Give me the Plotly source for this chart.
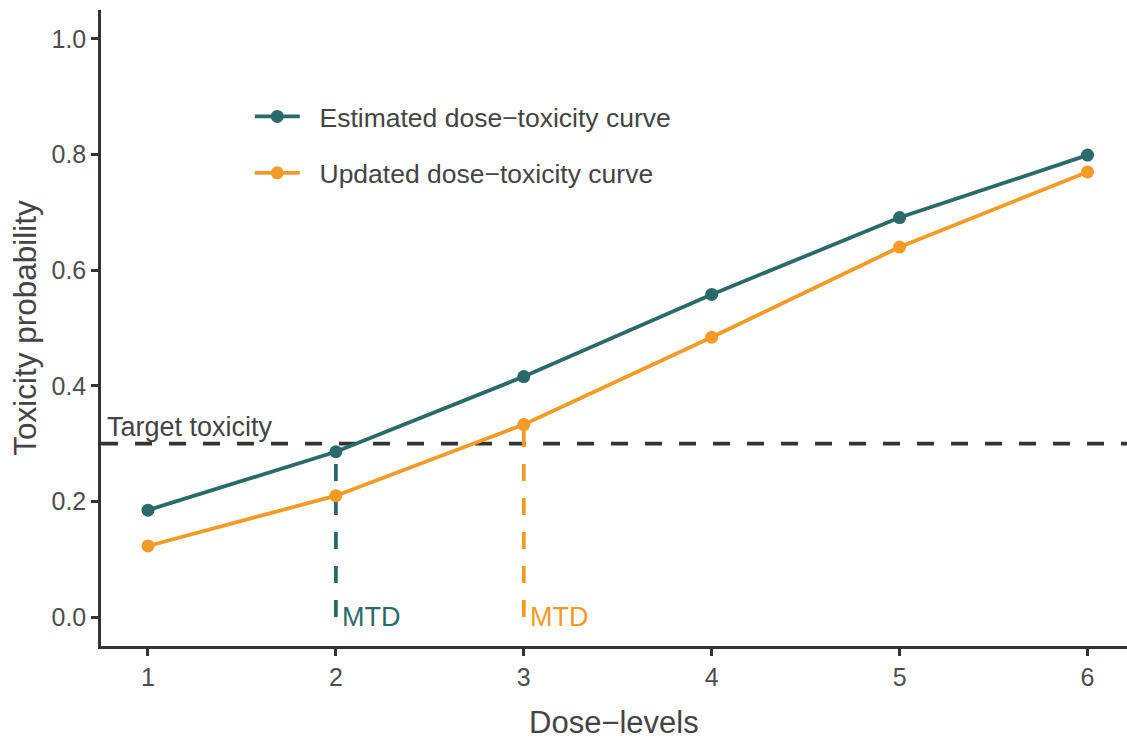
import plotly.graph_objects as go

dose_levels = [1, 2, 3, 4, 5, 6]
estimated = [0.185, 0.286, 0.416, 0.558, 0.691, 0.799]
updated = [0.123, 0.210, 0.333, 0.484, 0.640, 0.770]
target = 0.3
mtd_estimated = 2
mtd_updated = 3
x_ticks = [1, 2, 3, 4, 5, 6]
y_ticks = [0.0, 0.2, 0.4, 0.6, 0.8, 1.0]
y_tick_labels = ["0.0", "0.2", "0.4", "0.6", "0.8", "1.0"]

TEAL = "#2B6A6B"
ORANGE = "#F39B27"
DARK = "#333333"
FONT = "Liberation Sans, Arial, sans-serif"
NB = "\u00a0\u00a0"

fig = go.Figure()

# vertical MTD lines
fig.add_trace(go.Scatter(x=[mtd_estimated, mtd_estimated], y=[0, estimated[mtd_estimated - 1]],
                         mode="lines", line=dict(color=TEAL, width=3.8, dash="17px,17px"),
                         showlegend=False, hoverinfo="skip"))
fig.add_trace(go.Scatter(x=[mtd_updated, mtd_updated], y=[0, updated[mtd_updated - 1]],
                         mode="lines", line=dict(color=ORANGE, width=3.8, dash="17px,17px"),
                         showlegend=False, hoverinfo="skip"))

fig.add_trace(go.Scatter(x=dose_levels, y=estimated, mode="lines+markers",
                         name=NB + "Estimated dose\u2212toxicity curve", legendgroup="a",
                         line=dict(color=TEAL, width=3.8), marker=dict(color=TEAL, size=13)))
fig.add_trace(go.Scatter(x=dose_levels, y=updated, mode="lines+markers",
                         name=NB + "Updated dose\u2212toxicity curve", legendgroup="b",
                         line=dict(color=ORANGE, width=3.8), marker=dict(color=ORANGE, size=13)))

fig.add_shape(type="line", xref="paper", yref="y", x0=0, x1=1, y0=target, y1=target,
              line=dict(color=DARK, width=3.8, dash="17px,17px"), layer="below")

fig.add_annotation(x=0, xref="paper", y=target, yref="y", text="Target toxicity",
                   showarrow=False, xanchor="left", yanchor="bottom", xshift=4, yshift=0,
                   font=dict(family=FONT, size=27, color="#444444"))
fig.add_annotation(x=mtd_estimated, y=0, text="MTD", showarrow=False,
                   xanchor="left", yanchor="middle", xshift=4,
                   font=dict(family=FONT, size=27, color=TEAL))
fig.add_annotation(x=mtd_updated, y=0, text="MTD", showarrow=False,
                   xanchor="left", yanchor="middle", xshift=4,
                   font=dict(family=FONT, size=27, color=ORANGE))
# x-axis title
fig.add_annotation(x=0.5, xref="paper", y=0, yref="paper", text="Dose\u2212levels",
                   showarrow=False, xanchor="center", yanchor="top", yshift=-57,
                   font=dict(family=FONT, size=31, color="#444444"))

fig.update_layout(
    width=1127, height=743,
    paper_bgcolor="white", plot_bgcolor="white",
    margin=dict(l=101, r=0, t=10, b=97, autoexpand=False),
    font=dict(family=FONT, color="#444444"),
    legend=dict(x=0.145, y=0.87, xanchor="left", yanchor="top",
                font=dict(family=FONT, size=26.5, color="#444444"),
                bgcolor="rgba(0,0,0,0)", traceorder="grouped", tracegroupgap=19,
                itemwidth=45),
    xaxis=dict(range=[0.75, 6.21], tickvals=x_ticks, ticks="outside", ticklen=7,
               tickwidth=2.5, tickcolor=DARK, showline=True, linecolor=DARK, linewidth=2.5,
               showgrid=False, zeroline=False,
               tickfont=dict(family=FONT, size=25, color="#4D4D4D")),
    yaxis=dict(range=[-0.05, 1.05], tickvals=y_ticks, ticktext=y_tick_labels, ticks="outside",
               ticklen=7, tickwidth=2.5, tickcolor=DARK, showline=True, linecolor=DARK,
               linewidth=2.5, showgrid=False, zeroline=False,
               tickfont=dict(family=FONT, size=25, color="#4D4D4D"),
               title=dict(text="Toxicity probability", font=dict(family=FONT, size=31.5, color="#444444"),
                          standoff=6)),
)

fig.write_html("out.html", config={"displayModeBar": False},
               post_script="document.body.style.margin='0';document.body.style.overflow='hidden';")
